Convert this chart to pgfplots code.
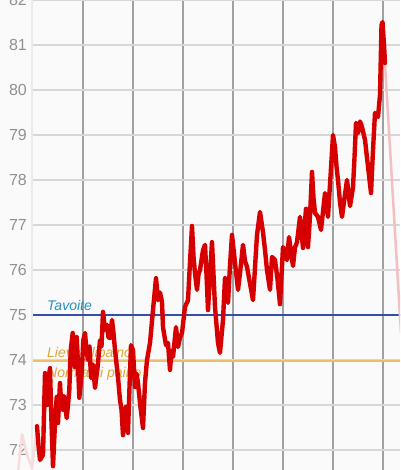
\documentclass[border=0pt]{standalone}
\usepackage{fontspec}
\setmainfont{Liberation Sans}
\usepackage{pgfplots}
\pgfplotsset{compat=1.18}
\definecolor{bg}{RGB}{250,250,250}
\definecolor{vgrid}{RGB}{160,160,160}
\definecolor{hgrid}{RGB}{215,215,215}
\definecolor{ticktext}{RGB}{145,145,145}
\definecolor{wred}{RGB}{214,0,0}
\definecolor{wpink}{RGB}{242,192,192}
\definecolor{wpinklight}{RGB}{248,220,220}
\definecolor{goalblue}{RGB}{50,80,170}
\definecolor{goaltext}{RGB}{35,145,200}
\definecolor{orangeline}{RGB}{238,190,105}
\definecolor{orangetext}{RGB}{226,166,52}
\begin{document}
\begin{tikzpicture}
\useasboundingbox (0,0) rectangle (400pt,470pt);
\clip (0,0) rectangle (400pt,470pt);
\fill[bg] (0,0) rectangle (400pt,470pt);
\begin{axis}[
  at={(33pt,0pt)}, anchor=south west,
  scale only axis, width=367pt, height=470pt,
  xmin=33, xmax=400, ymin=71.556, ymax=82,
  clip=false,
  axis line style={draw=none},
  xtick={83,133,183,233,283,333,383}, xticklabels={},
  ytick={72,73,...,82},
  major tick length=0pt,
  xmajorgrids, ymajorgrids,
  x grid style={color=vgrid, line width=2.4pt},
  y grid style={color=hgrid, line width=2pt},
  /pgf/number format/assume math mode=true,
  yticklabel style={font=\fontsize{16}{18}\selectfont, text=ticktext, inner sep=0pt, anchor=east, xshift=-6pt},
]
\draw[color=black!8, line width=2pt] (axis cs:32,71.556) -- (axis cs:32,82);
% faded neighbouring segments
\addplot[wpinklight, line width=2.5pt, line join=round] coordinates {
(18,71.5) (22,72.35) (27,71.9) (32,71.6) (37,72.53)};
% target lines
\addplot[goalblue, line width=1.4pt] coordinates {(33,75.0) (410,75.0)};
\addplot[orangeline, line width=2.2pt] coordinates {(33,73.97) (410,73.97)};
\node[anchor=base west, inner sep=0pt, text=goaltext, font=\fontsize{14}{16}\selectfont\itshape] at (axis cs:47,75.11) {Tavoite};
\node[anchor=base west, inner sep=0pt, text=orangetext, font=\fontsize{14}{16}\selectfont\itshape] at (axis cs:47,74.05) {Lievä ylipaino};
\node[anchor=base west, inner sep=0pt, text=orangetext, font=\fontsize{14}{16}\selectfont\itshape] at (axis cs:47,73.62) {Normaali paino};
\addplot[wpink, line width=2.5pt] coordinates {(382.5,81.51) (401,74.6)};
% weight series
\addplot[wred, line width=4.4pt, line join=round, line cap=round] coordinates {
(37,72.53) (38.5,72.1) (40,71.78) (43,71.89) (44,72.8) (45,73.71) (46,73.2) (47,73.00) (48,73.5) (50,73.82) (51.5,72.6) (53,71.64)
(55,72.6) (56.7,73.18) (58,72.60) (60,73.49) (61,73.1) (62.7,72.89) (64,73.2) (66.7,72.71) (68,73.0) (69.3,73.33)
(70.7,74.22) (72.7,74.60) (74,74.1) (75,73.84) (76.7,74.51) (78,73.9) (79.3,73.16) (81.7,73.71)
(83.3,74.44) (85,74.60) (86.5,74.2) (88,74.0) (89.5,74.3) (91,73.6) (93,73.9) (95,73.38) (98,73.93) (100,74.44)
(101.5,74.3) (103,75.07) (105,74.67) (107,74.78) (108.5,74.5) (110,74.49) (112,74.89) (113.5,74.6) (115,74.22)
(118,73.62) (120,73.11) (121.5,72.9) (123,72.33) (126,72.96) (128,72.38) (129.5,73.4) (131,74.33)
(133,74.22) (135,73.40) (136.5,73.7) (138,73.49) (140,73.04) (143,72.49) (145,73.5) (147,74.0)
(150,74.38) (153,75.11) (156,75.82) (158,75.33) (160,75.5) (162,75.29) (163,74.73)
(166,74.33) (168,74.38) (170,73.78) (171.5,74.2) (173,74.07) (176,74.73) (178,74.29)
(180,74.5) (182,74.6) (185,75.18) (188,75.33) (190,76.18) (192,76.98) (193.5,76.3) (195,75.93)
(197,75.56) (198.5,75.9) (200,76.0) (203,76.44) (205,76.56) (206.5,75.9) (208,75.11) (210,75.9) (212,76.62)
(213.5,75.9) (215,75.18) (218,74.38) (220,74.16) (223,74.89) (225,75.82) (226.5,75.5) (228,75.27)
(230,76.1) (232,76.78) (235,76.16) (238,75.56) (240,75.93) (243,76.56) (245,76.2) (247,76.07)
(250,75.7) (253,75.33) (257,76.78) (260,77.29) (263,76.84) (265,76.44) (267,76.0) (270,75.56)
(272,76.29) (275,76.22) (277.5,75.8) (280,75.24) (283,76.51) (285,76.4) (287,76.22) (289,76.73)
(293,76.09) (295,76.5) (297,76.62) (300,77.18) (303,76.49) (306,77.36) (308,76.51)
(310,77.2) (312,78.18) (313.5,77.6) (315,77.27) (318,77.18) (321,76.89) (323,77.3) (325,77.71) (328,77.18)
(330,77.9) (333,79.0) (335,78.73) (336.5,78.3) (338,78.0) (340,77.5) (342,77.18) (344.5,77.6) (347,78.0) (350,77.42)
(353,77.84) (354.5,78.5) (356,79.27) (358,79.04) (360,79.3) (362,79.18) (365,78.89) (368,78.3) (371,77.71)
(373,78.67) (375,79.49) (378,79.4) (380,79.89) (381.5,81.44) (382.5,81.51)
(384,81.0) (385,80.6)};
\end{axis}
\end{tikzpicture}
\end{document}
